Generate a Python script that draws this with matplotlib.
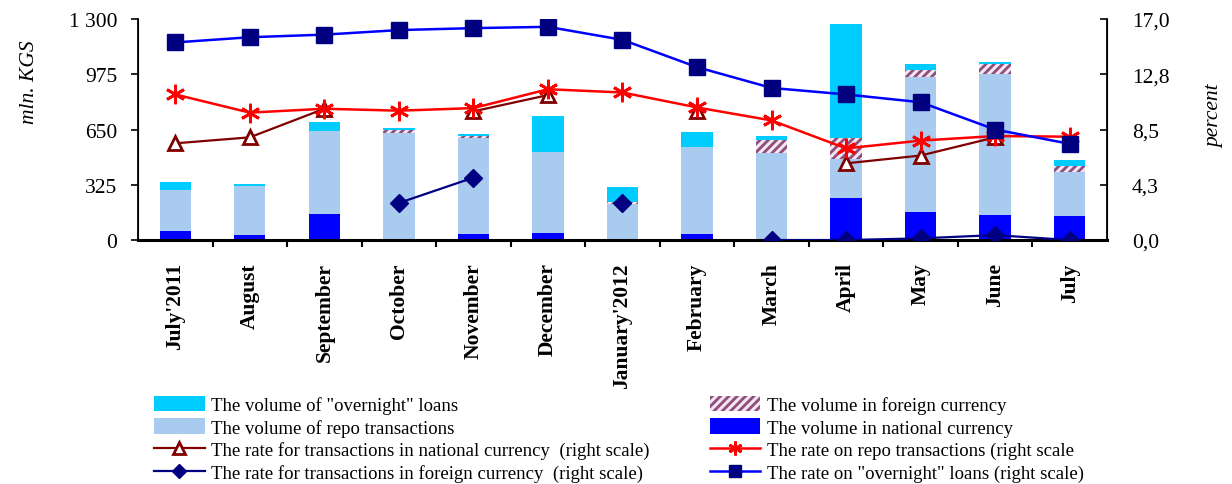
#!/usr/bin/env python3
"""
Interbank credit market: volumes (left scale) and rates (right scale)
"""
import numpy as np
import matplotlib
matplotlib.use("Agg")
from matplotlib import pyplot as plt
from matplotlib.patches import Patch
from matplotlib.lines import Line2D
from matplotlib.ticker import FixedLocator, FixedFormatter

plt.rcParams['font.family'] = ['Liberation Serif', 'DejaVu Serif']
plt.rcParams['hatch.linewidth'] = 2.0

months = ["July'2011", "August", "September", "October", "November",
          "December", "January'2012", "February", "March", "April",
          "May", "June", "July"]

# volumes, mln. KGS (stack segments)
vol_national = [53, 29, 153, 0, 35, 41, 0, 35, 0, 247, 165, 147, 141]
vol_repo = [241, 289, 488, 631, 565, 477, 214, 512, 512, 229, 794, 829, 259]
vol_foreign = [0, 0, 0, 16, 12, 0, 11, 0, 76, 124, 41, 59, 35]
vol_overnight = [47, 11, 53, 12, 11, 211, 87, 88, 24, 671, 35, 12, 36]

# rates, percent
rate_national = [7.44, 7.9, 10.1, np.nan, 9.9, 11.15, np.nan, 9.95, np.nan,
                 5.9, 6.5, 7.9, np.nan]
rate_repo = [11.2, 9.8, 10.1, 9.95, 10.15, 11.6, 11.35, 10.2, 9.2,
             7.05, 7.65, 8.0, 7.95]
rate_foreign = [np.nan, np.nan, np.nan, 2.85, 4.8, np.nan, 2.85, np.nan, 0,
                0, 0.13, 0.38, 0]
rate_overnight = [15.2, 15.6, 15.8, 16.15, 16.3, 16.4, 15.4, 13.3, 11.7,
                  11.2, 10.6, 8.5, 7.4]

left_ticks = [0, 325, 650, 975, 1300]
left_labels = ["0", "325", "650", "975", "1 300"]
right_ticks = [0, 4.25, 8.5, 12.75, 17]
right_labels = ["0,0", "4,3", "8,5", "12,8", "17,0"]

c_overnight = '#00ccff'
c_repo = '#a9cbef'
c_foreign = '#8e4d7c'
c_national = '#0000ff'

fig = plt.figure(figsize=(12.32, 4.85), dpi=100)
ax = fig.add_axes([0.112, 0.503, 0.7865, 0.4557])
ax2 = ax.twinx()

x = np.arange(len(months))
w = 0.42
b1 = np.array(vol_national)
b2 = b1 + np.array(vol_repo)
b3 = b2 + np.array(vol_foreign)

ax.bar(x, vol_national, w, color=c_national, lw=0)
ax.bar(x, vol_repo, w, bottom=b1, color=c_repo, lw=0)
ax.bar(x, vol_foreign, w, bottom=b2, facecolor='#f4e6ef', edgecolor=c_foreign,
       hatch='////', lw=0)
ax.bar(x, vol_overnight, w, bottom=b3, color=c_overnight, lw=0)

ax.set_xlim(-0.5, len(months) - 0.5)
ax.set_ylim(0, 1300)
ax.yaxis.set_major_locator(FixedLocator(left_ticks))
ax.yaxis.set_major_formatter(FixedFormatter(left_labels))
ax.tick_params(axis='y', labelsize=15.5, length=5, width=1.2, pad=10)

ax.set_xticks(x)
ax.set_xticklabels(months, rotation=90, fontweight='bold', fontsize=15.5)
ax.set_xticks(np.arange(0.5, len(months) - 0.5, 1), minor=True)
ax.tick_params(axis='x', which='major', length=0, pad=16)
ax.tick_params(axis='x', which='minor', length=5, width=1.5)

for s in ['top']:
    ax.spines[s].set_visible(False)
    ax2.spines[s].set_visible(False)
ax.spines['bottom'].set_linewidth(2.2)
ax.spines['left'].set_linewidth(1.3)
ax2.spines['right'].set_linewidth(1.3)

ax2.plot(x, rate_national, color='#800000', lw=1.6, marker='^', ms=10,
         mfc='white', mec='#800000', mew=2, zorder=2)
ax2.plot(x, rate_repo, color='#ff0000', lw=1.8, marker=(6, 2, 0), ms=14,
         mec='#ff0000', mew=2, zorder=3)
ax2.plot(x, rate_foreign, color='#000080', lw=1.6, marker='D', ms=9,
         mfc='#000080', mec='#000080', zorder=4)
ax2.plot(x, rate_overnight, color='#0000ff', lw=1.8, marker='s', ms=11,
         mfc='#000080', mec='#000080', zorder=5)

ax2.set_ylim(0, 17)
ax2.yaxis.set_major_locator(FixedLocator(right_ticks))
ax2.yaxis.set_major_formatter(FixedFormatter(right_labels))
ax2.tick_params(axis='y', labelsize=15.5, length=5, width=1.2, direction='in',
                pad=18)

fig.text(0.024, 0.83, "mln. KGS", rotation=90, style='italic', fontsize=15.5,
         ha='center', va='center')
fig.text(0.986, 0.76, "percent", rotation=90, style='italic', fontsize=15.5,
         ha='center', va='center')

# legend, two columns
left_handles = [
    Patch(color=c_overnight, lw=0),
    Patch(color=c_repo, lw=0),
    Line2D([], [], color='#800000', lw=1.6, marker='^', ms=8, mfc='white',
           mec='#800000', mew=2),
    Line2D([], [], color='#000080', lw=1.6, marker='D', ms=7, mfc='#000080'),
]
left_names = ['The volume of "overnight" loans',
              'The volume of repo transactions',
              'The rate for transactions in national currency  (right scale)',
              'The rate for transactions in foreign currency  (right scale)']
right_handles = [
    Patch(facecolor='#f4e6ef', edgecolor=c_foreign, hatch='////', lw=0),
    Patch(color=c_national, lw=0),
    Line2D([], [], color='#ff0000', lw=1.8, marker=(6, 2, 0), ms=10,
           mec='#ff0000', mew=2),
    Line2D([], [], color='#0000ff', lw=1.8, marker='s', ms=8, mfc='#000080',
           mec='#000080'),
]
right_names = ['The volume in foreign currency',
               'The volume in national currency',
               'The rate on repo transactions (right scale',
               'The rate on "overnight" loans (right scale)']

kw = dict(loc='upper left', frameon=False, fontsize=13.5, handlelength=2.7,
          handleheight=0.9, handletextpad=0.35, labelspacing=0.23,
          borderpad=0, borderaxespad=0)
fig.legend(left_handles, left_names, bbox_to_anchor=(0.125, 0.182), **kw)
fig.legend(right_handles, right_names, bbox_to_anchor=(0.576, 0.182), **kw)

fig.savefig("out.png", dpi=100)
